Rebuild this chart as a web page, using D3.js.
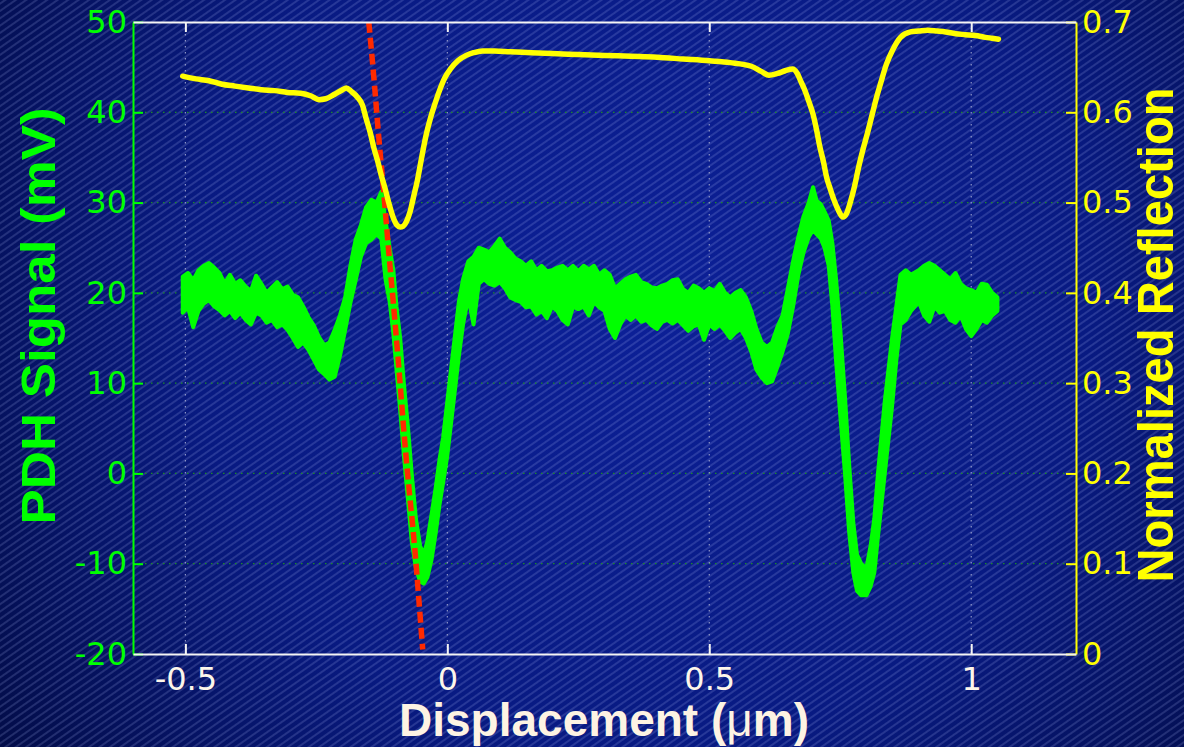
<!DOCTYPE html>
<html>
<head>
<meta charset="utf-8">
<script src="https://cdn.jsdelivr.net/npm/d3@7"></script>
<style>
body { margin: 0; background: #020a45; }
svg { display: block; }
text { font-family: "Liberation Sans", Arial, sans-serif; }
</style>
</head>
<body>
<div id="chart"></div>
<script>
const xTicks = [-0.5, 0, 0.5, 1];
const xTickLabels = ["-0.5", "0", "0.5", "1"];
const pdhTicks = [-20, -10, 0, 10, 20, 30, 40, 50];
const pdhTickLabels = ["-20", "-10", "0", "10", "20", "30", "40", "50"];
const reflTicks = [0, 0.1, 0.2, 0.3, 0.4, 0.5, 0.6, 0.7];
const reflTickLabels = ["0", "0.1", "0.2", "0.3", "0.4", "0.5", "0.6", "0.7"];

// PDH signal (mV): noisy band, lower and upper edge
const pdhX = [
    -0.505, -0.495, -0.485, -0.475, -0.465, -0.455, -0.445, -0.435, -0.425, -0.415,
    -0.405, -0.395, -0.385, -0.375, -0.365, -0.355, -0.345, -0.335, -0.325, -0.315,
    -0.305, -0.295, -0.285, -0.275, -0.265, -0.255, -0.245, -0.235, -0.225, -0.215,
    -0.205, -0.195, -0.185, -0.175, -0.165, -0.155, -0.145, -0.135, -0.126, -0.118,
    -0.110, -0.103, -0.097, -0.090, -0.083, -0.075, -0.068, -0.060, -0.052, -0.045,
    -0.038, -0.030, -0.022, -0.015, -0.008, 0.000, 0.008, 0.015, 0.022, 0.030,
    0.040, 0.050, 0.060, 0.070, 0.080, 0.090, 0.100, 0.110, 0.120, 0.130,
    0.140, 0.150, 0.160, 0.170, 0.180, 0.190, 0.200, 0.210, 0.220, 0.230,
    0.240, 0.250, 0.260, 0.270, 0.280, 0.290, 0.300, 0.310, 0.320, 0.330,
    0.340, 0.350, 0.360, 0.370, 0.380, 0.390, 0.400, 0.410, 0.420, 0.430,
    0.440, 0.450, 0.460, 0.470, 0.480, 0.490, 0.500, 0.510, 0.520, 0.530,
    0.540, 0.550, 0.560, 0.570, 0.580, 0.590, 0.600, 0.610, 0.620, 0.630,
    0.640, 0.650, 0.660, 0.670, 0.680, 0.690, 0.698, 0.705, 0.713, 0.720,
    0.728, 0.735, 0.742, 0.750, 0.759, 0.767, 0.775, 0.782, 0.790, 0.800,
    0.808, 0.815, 0.822, 0.835, 0.849, 0.857, 0.865, 0.875, 0.885, 0.900,
    0.910, 0.920, 0.930, 0.940, 0.950, 0.960, 0.970, 0.980, 0.990, 1.000,
    1.010, 1.020, 1.030, 1.040, 1.050
];
const pdhLo = [
    17.8, 18.4, 16.2, 18.0, 18.8, 19.2, 18.5, 18.1, 17.5, 18.0,
    17.2, 17.8, 17.0, 16.5, 17.8, 17.5, 16.7, 17.0, 16.2, 16.5,
    15.9, 15.0, 14.0, 14.5, 13.7, 12.6, 11.5, 11.0, 10.4, 10.7,
    13.0, 15.9, 18.9, 21.4, 24.0, 25.5, 25.9, 26.5, 26.0, 21.5,
    19.0, 15.5, 11.5, 7.0, 2.0, -3.0, -7.5, -10.5, -12.0, -12.2,
    -11.5, -9.5, -6.5, -3.5, -1.0, 2.0, 6.0, 9.5, 13.0, 16.5,
    19.5, 16.5, 21.0, 21.5, 21.0, 20.8, 21.2, 20.5, 19.5, 19.2,
    19.0, 18.4, 18.5, 17.6, 18.0, 17.2, 18.5, 18.0, 17.0, 16.5,
    18.5, 18.2, 18.5, 17.5, 19.0, 18.4, 18.0, 16.0, 15.0, 16.5,
    17.5, 17.0, 17.5, 16.8, 17.0, 16.4, 16.0, 16.8, 17.0, 16.6,
    17.0, 16.4, 15.8, 16.3, 16.5, 14.8, 16.5, 16.0, 16.5, 15.8,
    15.0, 15.6, 16.0, 15.0, 13.5, 11.5, 10.6, 10.0, 10.2, 11.8,
    13.5, 15.5, 18.5, 22.0, 24.5, 26.2, 27.0, 26.5, 26.0, 25.0,
    23.0, 18.5, 12.5, 6.5, 0.0, -6.5, -11.0, -13.0, -13.5, -13.5,
    -12.5, -11.0, -7.0, 0.0, 7.5, 12.5, 16.5, 17.0, 18.0, 19.0,
    17.5, 16.8, 18.5, 17.8, 18.0, 17.0, 16.7, 17.5, 16.0, 15.2,
    16.0, 17.0, 16.7, 17.5, 18.0
];
const pdhHi = [
    21.8, 22.2, 21.4, 22.5, 23.0, 23.3, 22.8, 22.2, 21.0, 22.0,
    21.0, 21.4, 20.7, 20.2, 21.9, 21.0, 20.0, 20.6, 21.2, 20.4,
    20.7, 19.8, 19.5, 18.5, 17.3, 16.4, 15.1, 14.2, 14.5, 15.9,
    17.5, 19.5, 23.0, 25.9, 27.5, 29.5, 30.3, 30.0, 31.2, 28.0,
    25.0, 22.5, 18.5, 15.0, 10.0, 5.0, 0.0, -5.0, -8.0, -9.0,
    -7.5, -4.5, -1.5, 1.5, 4.0, 8.0, 12.0, 15.5, 19.0, 21.5,
    23.5, 24.0, 25.0, 24.8, 24.5, 25.2, 26.0, 25.0, 24.5, 23.8,
    23.5, 23.0, 23.5, 22.5, 23.0, 22.4, 22.5, 22.8, 23.0, 22.5,
    23.0, 22.4, 23.0, 22.6, 23.0, 22.0, 22.5, 22.0, 20.5, 21.0,
    21.5, 21.8, 22.0, 21.2, 21.0, 20.6, 20.5, 20.8, 21.0, 21.4,
    21.5, 20.4, 20.0, 20.8, 20.5, 20.0, 20.5, 20.2, 21.0, 20.0,
    19.5, 20.0, 20.3, 19.5, 18.0, 16.0, 14.5, 14.0, 14.5, 16.2,
    17.5, 20.5, 23.5, 26.2, 28.5, 30.0, 31.7, 30.2, 29.8, 29.0,
    28.0, 25.5, 21.5, 16.0, 8.5, 1.0, -5.5, -9.0, -10.0, -10.5,
    -8.0, -5.0, 0.0, 8.0, 15.0, 18.5, 22.0, 22.5, 22.0, 22.5,
    23.0, 23.3, 23.0, 22.5, 22.0, 21.5, 22.2, 21.0, 20.5, 20.3,
    20.0, 21.0, 20.9, 20.0, 19.5
];

// normalized reflection (right axis)
const reflX = [
    -0.505, -0.48, -0.455, -0.43, -0.405, -0.38, -0.355, -0.33, -0.305, -0.28,
    -0.26, -0.245, -0.232, -0.215, -0.2, -0.193, -0.183, -0.172, -0.162, -0.155,
    -0.147, -0.14, -0.133, -0.126, -0.119, -0.111, -0.103, -0.096, -0.09, -0.084,
    -0.078, -0.071, -0.065, -0.057, -0.049, -0.04, -0.032, -0.025, -0.015, -0.005,
    0.006, 0.02, 0.036, 0.05, 0.067, 0.09, 0.12, 0.16, 0.2, 0.25,
    0.3, 0.35, 0.4, 0.45, 0.5, 0.54, 0.58, 0.6, 0.614, 0.63,
    0.645, 0.659, 0.668, 0.675, 0.682, 0.69, 0.698, 0.705, 0.711, 0.718,
    0.724, 0.731, 0.738, 0.746, 0.755, 0.762, 0.77, 0.778, 0.785, 0.793,
    0.802, 0.812, 0.82, 0.827, 0.838, 0.85, 0.865, 0.884, 0.9, 0.917,
    0.935, 0.951, 0.97, 0.989, 1.008, 1.027, 1.04, 1.052
];
const reflY = [
    0.640, 0.637, 0.635, 0.631, 0.629, 0.627, 0.625, 0.624, 0.622, 0.621,
    0.618, 0.614, 0.615, 0.620, 0.625, 0.627, 0.623, 0.617, 0.608, 0.593,
    0.577, 0.560, 0.546, 0.530, 0.516, 0.498, 0.483, 0.475, 0.473, 0.474,
    0.479, 0.490, 0.505, 0.525, 0.550, 0.576, 0.594, 0.607, 0.624, 0.638,
    0.648, 0.657, 0.663, 0.666, 0.668, 0.668, 0.667, 0.666, 0.665, 0.664,
    0.663, 0.662, 0.661, 0.659, 0.657, 0.655, 0.651, 0.645, 0.641, 0.643,
    0.646, 0.648, 0.643, 0.634, 0.625, 0.612, 0.598, 0.580, 0.562, 0.545,
    0.528, 0.515, 0.503, 0.492, 0.484, 0.488, 0.502, 0.520, 0.539, 0.558,
    0.577, 0.600, 0.618, 0.632, 0.653, 0.669, 0.683, 0.689, 0.690, 0.691,
    0.690, 0.689, 0.687, 0.686, 0.685, 0.683, 0.682, 0.681
];

// red dashed fit over the falling edge (left axis)
const fitX = [-0.150, -0.139, -0.132, -0.122, -0.111, -0.101, -0.093, -0.082, -0.074, -0.065, -0.059, -0.053, -0.047];
const fitY = [50, 43.0, 38.0, 31.5, 24.0, 17.5, 12.0, 4.0, -1.2, -6.5, -10.5, -15.0, -19.5];

function create_chart(id_chart, margin, width, height) {

    const x = d3.scaleLinear().domain([-0.6, 1.2]).range([0, width]);
    const yL = d3.scaleLinear().domain([-20, 50]).range([height, 0]);
    const yR = d3.scaleLinear().domain([0, 0.7]).range([height, 0]);

    const root = d3.select(id_chart)
        .append("svg")
        .attr("width", width + margin.left + margin.right)
        .attr("height", height + margin.top + margin.bottom);

    const defs = root.append("defs");
    const grad = defs.append("radialGradient")
        .attr("id", "bg")
        .attr("gradientUnits", "userSpaceOnUse")
        .attr("cx", 640).attr("cy", 300).attr("r", 820);
    grad.append("stop").attr("offset", "0%").attr("stop-color", "#0c2098");
    grad.append("stop").attr("offset", "55%").attr("stop-color", "#081a82");
    grad.append("stop").attr("offset", "100%").attr("stop-color", "#020b42");

    const pat = defs.append("pattern")
        .attr("id", "stripes")
        .attr("patternUnits", "userSpaceOnUse")
        .attr("width", 12).attr("height", 6)
        .attr("patternTransform", "rotate(-35)");
    pat.append("line")
        .attr("x1", 0).attr("y1", 3).attr("x2", 12).attr("y2", 3)
        .attr("stroke", "rgba(185,195,255,0.34)")
        .attr("stroke-width", 1);

    defs.append("clipPath").attr("id", "plot-clip")
        .append("rect").attr("width", width).attr("height", height);

    root.append("rect").attr("width", "100%").attr("height", "100%").attr("fill", "url(#bg)");
    root.append("rect").attr("width", "100%").attr("height", "100%").attr("fill", "url(#stripes)");

    const svg = root.append("g")
        .attr("transform", "translate(" + margin.left + "," + margin.top + ")");

    // dotted grid
    svg.append("g")
        .selectAll("line")
        .data(pdhTicks.slice(1, -1))
        .enter().append("line")
        .attr("x1", 0).attr("x2", width)
        .attr("y1", d => yL(d)).attr("y2", d => yL(d))
        .attr("stroke", "#1c8c28")
        .attr("stroke-width", 1.2)
        .attr("stroke-dasharray", "1.5,4.5");
    svg.append("g")
        .selectAll("line")
        .data(xTicks)
        .enter().append("line")
        .attr("x1", d => x(d)).attr("x2", d => x(d))
        .attr("y1", 0).attr("y2", height)
        .attr("stroke", "#8f97c8")
        .attr("stroke-width", 1.2)
        .attr("stroke-dasharray", "1.5,4.5");

    const plot = svg.append("g").attr("clip-path", "url(#plot-clip)");

    const pdh = pdhX.map((v, i) => ({x: v, lo: pdhLo[i], hi: pdhHi[i]}));
    const band = d3.area()
        .x(d => x(d.x))
        .y0(d => yL(d.lo))
        .y1(d => yL(d.hi));
    plot.append("path")
        .datum(pdh)
        .attr("d", band)
        .attr("fill", "#00ff00")
        .attr("stroke", "#00ff00")
        .attr("stroke-width", 4)
        .attr("stroke-linejoin", "round");

    const fit = fitX.map((v, i) => ({x: v, y: fitY[i]}));
    plot.append("path")
        .datum(fit)
        .attr("d", d3.line().x(d => x(d.x)).y(d => yL(d.y)).curve(d3.curveMonotoneX))
        .attr("fill", "none")
        .attr("stroke", "#ff2a00")
        .attr("stroke-width", 5.5)
        .attr("stroke-dasharray", "11,5");

    const refl = reflX.map((v, i) => ({x: v, y: reflY[i]}));
    plot.append("path")
        .datum(refl)
        .attr("d", d3.line().x(d => x(d.x)).y(d => yR(d.y)).curve(d3.curveMonotoneX))
        .attr("fill", "none")
        .attr("stroke", "#ffff00")
        .attr("stroke-width", 5.5)
        .attr("stroke-linejoin", "round")
        .attr("stroke-linecap", "round");

    // axes, ticks pointing inwards
    const tickFont = "32px";
    const tickFamily = "'DejaVu Sans', sans-serif";
    const left = svg.append("g")
        .call(d3.axisLeft(yL).tickValues(pdhTicks).tickSizeInner(-10).tickSizeOuter(0).tickPadding(6)
            .tickFormat((d, i) => pdhTickLabels[i]));
    left.select(".domain").attr("stroke", "#00ff00").attr("stroke-width", 2);
    left.selectAll(".tick line").attr("stroke", "#00ff00").attr("stroke-width", 2);
    left.selectAll("text").attr("fill", "#00ff00").style("font-size", tickFont)
        .style("font-family", tickFamily);

    const right = svg.append("g")
        .attr("transform", "translate(" + width + ",0)")
        .call(d3.axisRight(yR).tickValues(reflTicks).tickSizeInner(-10).tickSizeOuter(0).tickPadding(6)
            .tickFormat((d, i) => reflTickLabels[i]));
    right.select(".domain").attr("stroke", "#ffff00").attr("stroke-width", 2);
    right.selectAll(".tick line").attr("stroke", "#ffff00").attr("stroke-width", 2);
    right.selectAll("text").attr("fill", "#ffff00").style("font-size", tickFont)
        .style("font-family", tickFamily);

    const bottom = svg.append("g")
        .attr("transform", "translate(0," + height + ")")
        .call(d3.axisBottom(x).tickValues(xTicks).tickSizeInner(-10).tickSizeOuter(0).tickPadding(13)
            .tickFormat((d, i) => xTickLabels[i]));
    bottom.select(".domain").attr("stroke", "#f4f4f4").attr("stroke-width", 2);
    bottom.selectAll(".tick line").attr("stroke", "#f4f4f4").attr("stroke-width", 2);
    bottom.selectAll("text").attr("fill", "#fdf6ea").style("font-size", tickFont)
        .style("font-family", tickFamily);

    const top = svg.append("g")
        .call(d3.axisTop(x).tickValues(xTicks).tickSizeInner(-10).tickSizeOuter(0).tickFormat(""));
    top.select(".domain").attr("stroke", "#f4f4f4").attr("stroke-width", 2);
    top.selectAll(".tick line").attr("stroke", "#f4f4f4").attr("stroke-width", 2);

    // axis titles
    const xTitle = root.append("text")
        .attr("x", 604).attr("y", 736)
        .attr("text-anchor", "middle")
        .attr("fill", "#fdf3e3")
        .style("font-size", "46px")
        .style("font-weight", "bold");
    xTitle.append("tspan").text("Displacement (");
    xTitle.append("tspan").style("font-weight", "normal").text("\u03bc");
    xTitle.append("tspan").text("m)");

    root.append("text")
        .attr("transform", "translate(55,316) rotate(-90)")
        .attr("text-anchor", "middle")
        .attr("fill", "#00ff00")
        .style("font-size", "49px")
        .style("font-weight", "bold")
        .attr("textLength", 417)
        .attr("lengthAdjust", "spacingAndGlyphs")
        .text("PDH Signal (mV)");

    root.append("text")
        .attr("transform", "translate(1173,335) rotate(-90)")
        .attr("text-anchor", "middle")
        .attr("fill", "#ffff00")
        .style("font-size", "50px")
        .style("font-weight", "bold")
        .attr("textLength", 495)
        .attr("lengthAdjust", "spacingAndGlyphs")
        .text("Normalized Reflection");
}

const margin = {top: 22, right: 108, bottom: 93, left: 133},
    width = 1184 - margin.left - margin.right,
    height = 747 - margin.top - margin.bottom;
create_chart("#chart", margin, width, height);
</script>
</body>
</html>
